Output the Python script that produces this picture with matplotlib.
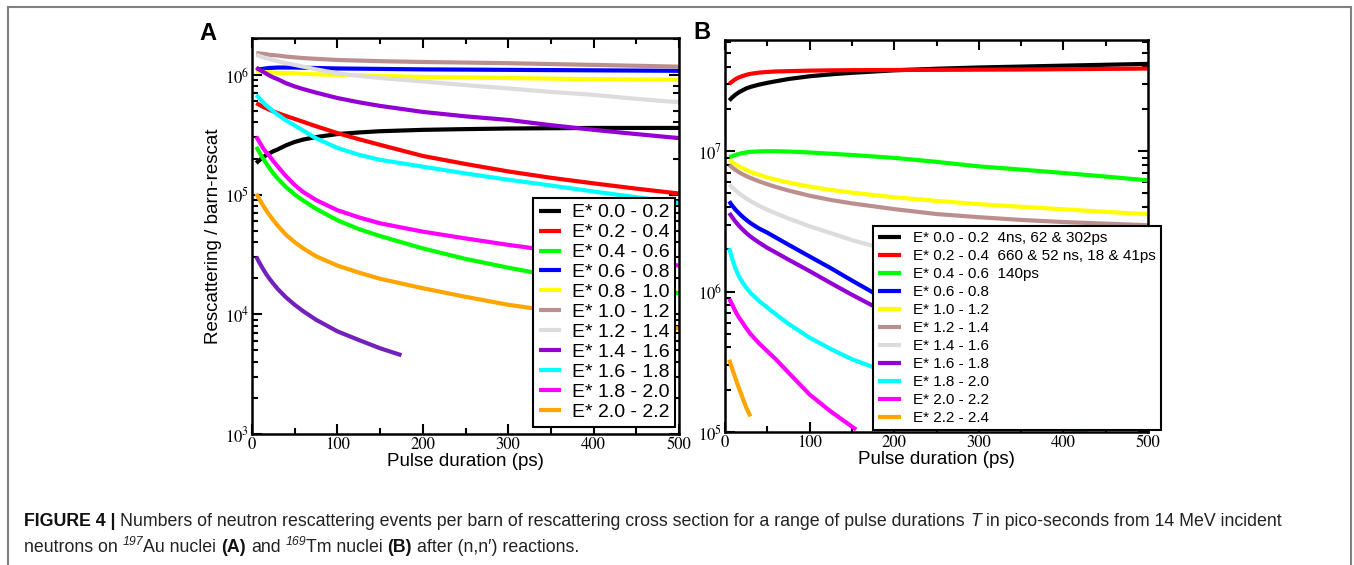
import math
import matplotlib
matplotlib.use("Agg")
import matplotlib.pyplot as plt
from matplotlib.ticker import LogLocator, FuncFormatter, MultipleLocator, NullFormatter
from matplotlib.lines import Line2D
from matplotlib.transforms import IdentityTransform

plt.rcParams["font.family"] = ["Liberation Sans", "DejaVu Sans"]
plt.rcParams["mathtext.fontset"] = "stix"

# pulse durations (ps) at which the curves were read
pulse = [5, 8, 12, 16, 20, 25, 30, 40, 50, 60, 75, 100, 125, 150, 200, 250, 300, 350, 400, 450, 500]

# ---- panel A : 197Au ----
a_black = [1.83e5, 1.92e5, 2.02e5, 2.12e5, 2.2e5, 2.3e5, 2.38e5, 2.58e5, 2.75e5, 2.88e5, 3.02e5,
           3.2e5, 3.3e5, 3.38e5, 3.47e5, 3.52e5, 3.56e5, 3.58e5, 3.6e5, 3.6e5, 3.6e5]
a_red = [5.8e5, 5.65e5, 5.45e5, 5.28e5, 5.12e5, 4.95e5, 4.8e5, 4.52e5, 4.28e5, 4.05e5, 3.72e5,
         3.26e5, 2.9e5, 2.6e5, 2.1e5, 1.8e5, 1.56e5, 1.38e5, 1.24e5, 1.12e5, 1.02e5]
a_green = [2.5e5, 2.3e5, 2.05e5, 1.85e5, 1.68e5, 1.5e5, 1.36e5, 1.15e5, 1.0e5, 8.9e4, 7.6e4,
           6.1e4, 5.15e4, 4.5e4, 3.55e4, 2.9e4, 2.45e4, 2.1e4, 1.85e4, 1.65e4, 1.5e4]
a_blue = [1.1e6, 1.11e6, 1.12e6, 1.13e6, 1.14e6, 1.145e6, 1.15e6, 1.15e6, 1.15e6, 1.145e6, 1.14e6,
          1.13e6, 1.125e6, 1.12e6, 1.11e6, 1.105e6, 1.1e6, 1.095e6, 1.09e6, 1.085e6, 1.08e6]
a_yellow = [1.07e6, 1.065e6, 1.06e6, 1.055e6, 1.05e6, 1.045e6, 1.04e6, 1.035e6, 1.03e6, 1.02e6, 1.01e6,
            1.0e6, 9.9e5, 9.8e5, 9.6e5, 9.5e5, 9.4e5, 9.3e5, 9.2e5, 9.15e5, 9.1e5]
a_brown = [1.52e6, 1.51e6, 1.5e6, 1.49e6, 1.47e6, 1.46e6, 1.45e6, 1.42e6, 1.4e6, 1.38e6, 1.36e6,
           1.33e6, 1.315e6, 1.3e6, 1.28e6, 1.265e6, 1.25e6, 1.23e6, 1.21e6, 1.19e6, 1.17e6]
a_grey = [1.47e6, 1.44e6, 1.41e6, 1.38e6, 1.36e6, 1.33e6, 1.3e6, 1.25e6, 1.21e6, 1.17e6, 1.11e6,
          1.03e6, 9.8e5, 9.4e5, 8.8e5, 8.2e5, 7.7e5, 7.2e5, 6.8e5, 6.3e5, 5.9e5]
a_violet = [1.15e6, 1.11e6, 1.07e6, 1.03e6, 9.9e5, 9.5e5, 9.2e5, 8.5e5, 8.0e5, 7.6e5, 7.1e5,
            6.4e5, 5.9e5, 5.5e5, 4.9e5, 4.5e5, 4.2e5, 3.8e5, 3.47e5, 3.2e5, 2.96e5]
a_cyan = [6.8e5, 6.45e5, 6.0e5, 5.6e5, 5.3e5, 4.95e5, 4.65e5, 4.15e5, 3.78e5, 3.42e5, 2.95e5,
          2.45e5, 2.15e5, 1.95e5, 1.71e5, 1.5e5, 1.33e5, 1.19e5, 1.06e5, 9.5e4, 8.5e4]
a_magenta = [3.05e5, 2.8e5, 2.5e5, 2.28e5, 2.12e5, 1.9e5, 1.72e5, 1.42e5, 1.2e5, 1.05e5, 9.0e4,
             7.4e4, 6.45e4, 5.75e4, 4.9e4, 4.3e4, 3.8e4, 3.4e4, 3.1e4, 2.8e4, 2.55e4]
a_orange = [1.02e5, 9.3e4, 8.3e4, 7.5e4, 6.8e4, 6.1e4, 5.5e4, 4.6e4, 4.0e4, 3.55e4, 3.05e4,
            2.55e4, 2.23e4, 1.98e4, 1.65e4, 1.4e4, 1.2e4, 1.07e4, 9.6e3, 8.5e3, 7.6e3]
pulse_indigo = [5, 8, 12, 16, 20, 25, 30, 40, 50, 60, 75, 100, 125, 150, 175]
a_indigo = [3.03e4, 2.75e4, 2.45e4, 2.2e4, 2.0e4, 1.8e4, 1.63e4, 1.38e4, 1.2e4, 1.06e4, 9.0e3,
            7.2e3, 6.1e3, 5.2e3, 4.55e3]
labels_a = ["E* 0.0 - 0.2", "E* 0.2 - 0.4", "E* 0.4 - 0.6", "E* 0.6 - 0.8",
            "E* 0.8 - 1.0", "E* 1.0 - 1.2", "E* 1.2 - 1.4", "E* 1.4 - 1.6",
            "E* 1.6 - 1.8", "E* 1.8 - 2.0", "E* 2.0 - 2.2"]

# ---- panel B : 169Tm ----
b_black = [2.3e7, 2.4e7, 2.52e7, 2.62e7, 2.7e7, 2.8e7, 2.87e7, 2.98e7, 3.07e7, 3.15e7, 3.27e7,
           3.42e7, 3.53e7, 3.62e7, 3.77e7, 3.87e7, 3.95e7, 4.01e7, 4.07e7, 4.13e7, 4.19e7]
b_red = [3.02e7, 3.12e7, 3.25e7, 3.35e7, 3.42e7, 3.5e7, 3.56e7, 3.63e7, 3.67e7, 3.7e7, 3.72e7,
         3.75e7, 3.77e7, 3.78e7, 3.79e7, 3.8e7, 3.81e7, 3.82e7, 3.84e7, 3.86e7, 3.88e7]
b_green = [9.06e6, 9.2e6, 9.4e6, 9.55e6, 9.7e6, 9.8e6, 9.9e6, 9.97e6, 1.0e7, 1.0e7, 9.95e6,
           9.8e6, 9.6e6, 9.4e6, 8.97e6, 8.4e6, 7.8e6, 7.4e6, 7.0e6, 6.6e6, 6.2e6]
b_blue = [4.4e6, 4.13e6, 3.86e6, 3.64e6, 3.45e6, 3.25e6, 3.08e6, 2.82e6, 2.63e6, 2.43e6, 2.16e6,
          1.78e6, 1.47e6, 1.2e6, 8.1e5, 6.2e5, 5.0e5, 4.2e5, 3.6e5, 3.1e5, 2.7e5]
b_yellow = [8.7e6, 8.4e6, 8.08e6, 7.82e6, 7.6e6, 7.37e6, 7.12e6, 6.8e6, 6.5e6, 6.28e6, 5.98e6,
            5.6e6, 5.3e6, 5.07e6, 4.7e6, 4.43e6, 4.2e6, 4.02e6, 3.86e6, 3.7e6, 3.56e6]
b_brown = [8.0e6, 7.7e6, 7.39e6, 7.12e6, 6.9e6, 6.66e6, 6.46e6, 6.11e6, 5.82e6, 5.57e6, 5.25e6,
           4.82e6, 4.5e6, 4.25e6, 3.87e6, 3.57e6, 3.39e6, 3.24e6, 3.13e6, 3.05e6, 2.97e6]
b_grey = [5.8e6, 5.56e6, 5.28e6, 5.05e6, 4.84e6, 4.61e6, 4.42e6, 4.09e6, 3.83e6, 3.61e6, 3.32e6,
          2.92e6, 2.61e6, 2.33e6, 1.92e6, 1.62e6, 1.41e6, 1.26e6, 1.15e6, 1.05e6, 9.5e5]
b_violet = [3.63e6, 3.42e6, 3.17e6, 2.97e6, 2.8e6, 2.62e6, 2.47e6, 2.24e6, 2.05e6, 1.9e6, 1.69e6,
            1.4e6, 1.15e6, 9.5e5, 6.6e5, 4.8e5, 3.7e5, 3.0e5, 2.5e5, 2.1e5, 1.8e5]
b_cyan = [2.04e6, 1.75e6, 1.48e6, 1.3e6, 1.18e6, 1.07e6, 9.8e5, 8.6e5, 7.7e5, 6.9e5, 5.9e5,
          4.7e5, 3.9e5, 3.3e5, 2.55e5, 2.0e5, 1.6e5, 1.3e5, 1.08e5, 9.0e4, 7.5e4]
pulse_magenta = [5, 8, 12, 16, 20, 25, 30, 40, 50, 60, 75, 100, 125, 155]
b_magenta = [8.9e5, 8.2e5, 7.3e5, 6.6e5, 6.1e5, 5.5e5, 5.0e5, 4.3e5, 3.76e5, 3.3e5, 2.65e5,
             1.85e5, 1.4e5, 1.04e5]
pulse_orange = [5, 10, 15, 20, 25, 30]
b_orange = [3.27e5, 2.65e5, 2.17e5, 1.8e5, 1.5e5, 1.29e5]
labels_b = ["E* 0.0 - 0.2  4ns, 62 & 302ps", "E* 0.2 - 0.4  660 & 52 ns, 18 & 41ps",
            "E* 0.4 - 0.6  140ps", "E* 0.6 - 0.8", "E* 1.0 - 1.2", "E* 1.2 - 1.4",
            "E* 1.4 - 1.6", "E* 1.6 - 1.8", "E* 1.8 - 2.0", "E* 2.0 - 2.2", "E* 2.2 - 2.4"]

# grace colours
colors = ["#000000", "#ff0000", "#00ff00", "#0000ff", "#ffff00", "#bc8f8f",
          "#dcdcdc", "#9400d3", "#00ffff", "#ff00ff", "#ffa500"]
indigo = "#7221bc"

W, H = 1354, 565
fig = plt.figure(figsize=(W / 100, H / 100), dpi=100)


def style_axes(ax, ylo, yhi):
    ax.set_yscale("log")
    ax.set_xlim(0, 500)
    ax.set_ylim(ylo, yhi)
    ax.xaxis.set_major_locator(MultipleLocator(100))
    ax.xaxis.set_minor_locator(MultipleLocator(50))
    ax.yaxis.set_major_locator(LogLocator(base=10))
    ax.yaxis.set_minor_locator(LogLocator(base=10, subs=range(2, 10)))
    ax.yaxis.set_minor_formatter(NullFormatter())
    ax.yaxis.set_major_formatter(FuncFormatter(lambda v, p: r"$10^{%d}$" % round(math.log10(v))))
    ax.tick_params(which="both", direction="in", top=True, right=True, width=1.5)
    ax.tick_params(which="major", length=7)
    ax.tick_params(which="minor", length=4.5)
    ax.tick_params(axis="y", pad=2, labelsize=12)
    ax.tick_params(axis="x", pad=2, labelsize=12)
    for lab in ax.get_xticklabels():
        lab.set_fontfamily("STIXGeneral")
    for s in ax.spines.values():
        s.set_linewidth(1.8)
    ax.set_xlabel("Pulse duration (ps)", fontsize=13.5, labelpad=0)


axA = fig.add_axes([252 / W, 1 - 434 / H, 427 / W, 396 / H])
series_a = [a_black, a_red, a_green, a_blue, a_yellow, a_brown, a_grey,
            a_violet, a_cyan, a_magenta, a_orange]
for ys, c, lab in zip(series_a, colors, labels_a):
    axA.plot(pulse, ys, color=c, lw=3, label=lab, solid_capstyle="butt")
axA.plot(pulse_indigo, a_indigo, color=indigo, lw=3, solid_capstyle="butt")
style_axes(axA, 1e3, 2.03e6)
axA.set_ylabel("Rescattering / barn-rescat", fontsize=13.5, labelpad=2)

axB = fig.add_axes([725 / W, 1 - 432 / H, 423 / W, 392 / H])
series_b = [(pulse, b_black), (pulse, b_red), (pulse, b_green), (pulse, b_blue),
            (pulse, b_yellow), (pulse, b_brown), (pulse, b_grey), (pulse, b_violet),
            (pulse, b_cyan), (pulse_magenta, b_magenta), (pulse_orange, b_orange)]
for (xs, ys), c, lab in zip(series_b, colors, labels_b):
    axB.plot(xs, ys, color=c, lw=3, label=lab, solid_capstyle="butt")
style_axes(axB, 1e5, 6.2e7)

legA = axA.legend(loc="upper left", bbox_to_anchor=(533 / W, 1 - 198 / H),
                  bbox_transform=fig.transFigure, borderaxespad=0, fontsize=14,
                  handlelength=1.15, handletextpad=0.55, labelspacing=0.12,
                  borderpad=0.3, fancybox=False, framealpha=1, edgecolor="black")
legA.get_frame().set_linewidth(1.5)
legB = axB.legend(loc="upper left", bbox_to_anchor=(873 / W, 1 - 226 / H),
                  bbox_transform=fig.transFigure, borderaxespad=0, fontsize=11,
                  handlelength=1.45, handletextpad=0.8, labelspacing=0.26,
                  borderpad=0.35, fancybox=False, framealpha=1, edgecolor="black")
legB.get_frame().set_linewidth(1.5)
legB.set_clip_on(False)

fig.text(199 / W, 1 - 40 / H, "A", fontsize=17, fontweight="bold", ha="left", va="baseline")
fig.text(693 / W, 1 - 39 / H, "B", fontsize=17, fontweight="bold", ha="left", va="baseline")

# outer frame
frame_kw = dict(color="#808080", lw=1.5, transform=fig.transFigure)
fig.add_artist(Line2D([8 / W, 8 / W], [0, 1 - 6.5 / H], **frame_kw))
fig.add_artist(Line2D([8 / W, 1351 / W], [1 - 6.5 / H, 1 - 6.5 / H], **frame_kw))
fig.add_artist(Line2D([1351 / W, 1351 / W], [0, 1 - 6.5 / H], **frame_kw))

# caption, laid out as runs of styled text
cap_size = 12.75
renderer = fig.canvas.get_renderer()
space_px = cap_size * 100 / 72 * 0.278


def put_runs(x0, ybase, runs):
    x = x0
    for text, kind, gap in runs:
        if gap:
            x += space_px
        kw = dict(fontsize=cap_size, color="#222222")
        y = ybase
        if kind == "b":
            kw.update(fontweight="bold", color="#111111")
        elif kind == "i":
            kw.update(style="italic")
        elif kind == "sup":
            kw.update(style="italic", fontsize=cap_size * 0.7)
            y = ybase + cap_size * 100 / 72 * 0.42
        t = fig.text(x, y, text, transform=IdentityTransform(), va="baseline", **kw)
        x += t.get_window_extent(renderer).width


line1 = [("FIGURE 4 |", "b", False),
         ("Numbers of neutron rescattering events per barn of rescattering cross section for a range of pulse durations", "r", True),
         ("T", "i", True),
         ("in pico-seconds from 14 MeV incident", "r", True)]
line2 = [("neutrons on", "r", False), ("197", "sup", True), ("Au nuclei", "r", False),
         ("(A)", "b", True), ("and", "r", True), ("169", "sup", True),
         ("Tm nuclei", "r", False), ("(B)", "b", True), ("after (n,n\u2032) reactions.", "r", True)]
put_runs(24, H - 526, line1)
put_runs(24, H - 552, line2)

fig.savefig("out.png", dpi=100)
